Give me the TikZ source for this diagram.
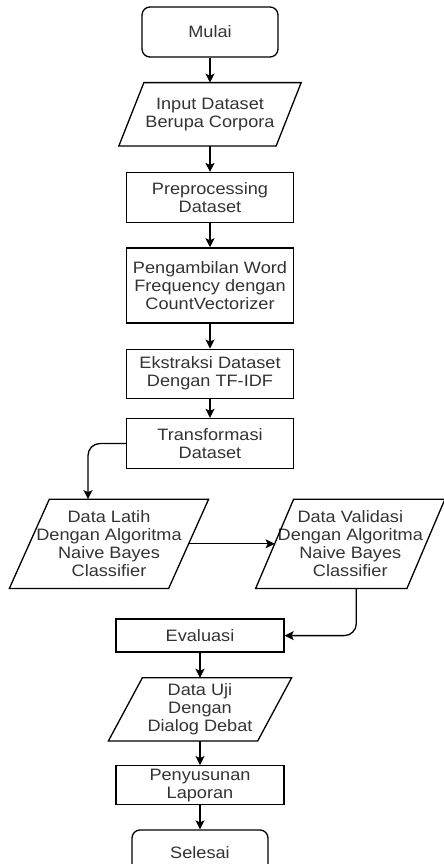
\documentclass[tikz,border=0pt]{standalone}
\usepackage{fontspec}
\setmainfont{Liberation Sans}[FakeStretch=1.1]
\usepackage{tikz}
\usetikzlibrary{positioning,arrows.meta}
\tikzset{
	basic/.style    = {draw, font=\fontsize{16.5}{18}\selectfont, text=black!80, align=center, inner sep=2pt},
	terminal/.style = {basic, rectangle, rounded corners=8pt, minimum width=136pt, minimum height=50pt},
	process/.style  = {basic, rectangle, minimum width=167pt, minimum height=50pt},
	inout/.style    = {basic, draw=none, rectangle, minimum width=181pt, minimum height=62pt}
}
\begin{document}
\begin{tikzpicture}[x=1pt, y=1pt, line width=1.3pt, node distance=25pt,
		>={Stealth[length=9pt,width=9pt,inset=2pt]}]
	\useasboundingbox (0,0) rectangle (444,-864);
	
	% start and the straight part of the flow
	\node[terminal] (mulai) at (210,-32) {Mulai};
	\node[inout, below=of mulai] (input) {Input Dataset\\Berupa Corpora};
	\node[process, below=26pt of input] (prep) {Preprocessing\\Dataset};
	\node[process, below=24pt of prep, minimum height=75pt] (ambil) {Pengambilan Word\\Frequency dengan\\CountVectorizer};
	\node[process, below=of ambil, minimum height=49pt] (ekstrak) {Ekstraksi Dataset\\Dengan TF-IDF};
	\node[process, below=19pt of ekstrak] (transf) {Transformasi\\Dataset};
	% training and validation side by side
	\begin{scope}[every node/.style={inout, minimum height=88pt}]
		\node [below=30pt of transf.south, xshift=-101pt, minimum width=198pt] (latih) {Data Latih\\Dengan Algoritma\\Naive Bayes\\Classifier};
		\node [right=47pt of latih, minimum width=188pt] (validasi) {Data Validasi\\Dengan Algoritma\\Naive Bayes\\Classifier};
	\end{scope}
	% evaluation down to the end
	\node[process, below=30pt of latih.south, xshift=91pt, minimum width=168pt, minimum height=33pt] (eval) {Evaluasi};
	\node[inout, below=of eval, minimum width=182pt] (uji) {Data Uji\\Dengan\\Dialog Debat};
	\node[process, below=24pt of uji, minimum width=168pt, minimum height=39pt] (susun) {Penyusunan\\Laporan};
	\node[terminal, below=24pt of susun, minimum height=46pt] (selesai) {Selesai};
	
	% slanted outlines of the data nodes
	\foreach \n/\s in {input/25, latih/40, validasi/38, uji/34}
	\draw ([xshift=\s pt]\n.north west) -- (\n.north east) -- ([xshift=-\s pt]\n.south east) -- (\n.south west) -- cycle;
	
	\foreach \from/\to in {mulai/input, input/prep, prep/ambil, ambil/ekstrak, ekstrak/transf, eval/uji, uji/susun, susun/selesai}
	\draw[->] (\from) -- (\to);
	\draw[->, rounded corners=12pt] (transf.west) -| ([xshift=-21pt]latih.north);
	\draw[->] ([xshift=-20pt]latih.east) -- ([xshift=19pt]validasi.west);
	\draw[->, rounded corners=12pt] ([xshift=6pt]validasi.south) |- (eval.east);
\end{tikzpicture}
\end{document}
